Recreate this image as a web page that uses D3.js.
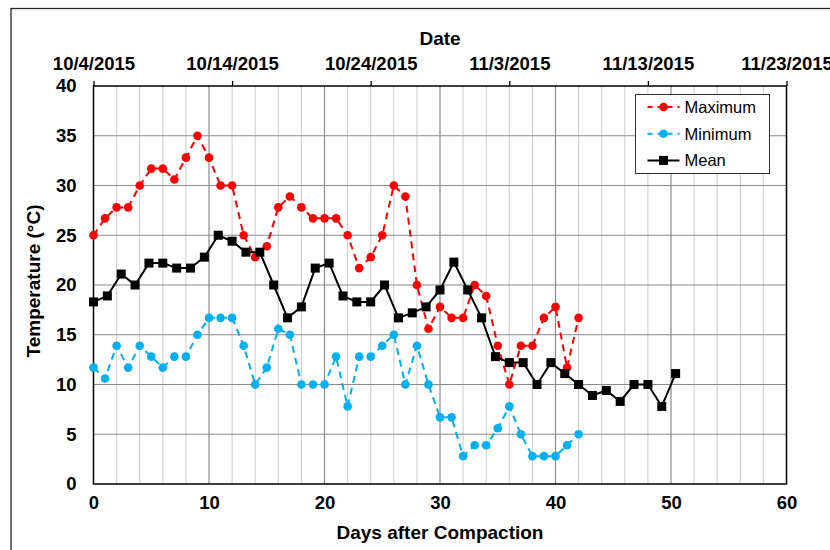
<!DOCTYPE html>
<html><head><meta charset="utf-8">
<script src="https://cdn.jsdelivr.net/npm/d3@7"></script>
<style>body{margin:0;background:#fff}svg{display:block;font-family:"Liberation Sans",Arial,sans-serif}</style>
</head><body>
<script>
// ---- data ----
const days = d3.range(0, 43);
const maxTemp = [25.0,26.7,27.8,27.8,30.0,31.7,31.7,30.6,32.8,35.0,32.8,30.0,30.0,25.0,22.8,23.9,27.8,28.9,27.8,26.7,26.7,26.7,25.0,21.7,22.8,25.0,30.0,28.9,20.0,15.6,17.8,16.7,16.7,20.0,18.9,13.9,10.0,13.9,13.9,16.7,17.8,11.7,16.7];
const minTemp = [11.7,10.6,13.9,11.7,13.9,12.8,11.7,12.8,12.8,15.0,16.7,16.7,16.7,13.9,10.0,11.7,15.6,15.0,10.0,10.0,10.0,12.8,7.8,12.8,12.8,13.9,15.0,10.0,13.9,10.0,6.7,6.7,2.8,3.9,3.9,5.6,7.8,5.0,2.8,2.8,2.8,3.9,5.0];
const meanTemp = [18.3,18.9,21.1,20.0,22.2,22.2,21.7,21.7,22.8,25.0,24.4,23.3,23.3,20.0,16.7,17.8,21.7,22.2,18.9,18.3,18.3,20.0,16.7,17.2,17.8,19.5,22.3,19.5,16.7,12.8,12.2,12.2,10.0,12.2,11.1,10.0,8.9,9.4,8.3,10.0,10.0,7.8,11.1];
const startDate = new Date(Date.UTC(2015, 9, 4));
const endDate = new Date(Date.UTC(2015, 10, 23));
const xTicks = [0,10,20,30,40,50,60];
const yTicks = [0,5,10,15,20,25,30,35,40];
const seriesNames = ["Maximum","Minimum","Mean"];

// ---- layout ----
const W = 830, H = 550;
const m = {left: 93.5, right: 830-786.5, top: 86, bottom: 550-484};
const pw = W - m.left - m.right, ph = H - m.top - m.bottom;
const FONT = "Liberation Sans, Arial, sans-serif";

const svg = d3.select("body").append("svg").attr("width", W).attr("height", H);
svg.append("rect").attr("x", 11).attr("y", 8.5).attr("width", 840).attr("height", 560)
  .attr("fill", "none").attr("stroke", "#222").attr("stroke-width", 1.3);

const g = svg.append("g").attr("transform", `translate(${m.left},${m.top})`);
const x = d3.scaleLinear().domain([0, 60]).range([0, pw]);
const xd = d3.scaleUtc().domain([startDate, endDate]).range([0, pw]);
const y = d3.scaleLinear().domain([0, 40]).range([ph, 0]);

// grid
const grid = g.append("g");
grid.selectAll(".vmin").data(d3.range(2, 60, 2).filter(v => v % 10 !== 0)).join("line")
  .attr("x1", d => x(d)).attr("x2", d => x(d)).attr("y1", 0).attr("y2", ph)
  .attr("stroke", "#d4d4d4").attr("stroke-width", 1.2);
grid.selectAll(".vmaj").data([10,20,30,40,50]).join("line")
  .attr("x1", d => x(d)).attr("x2", d => x(d)).attr("y1", 0).attr("y2", ph)
  .attr("stroke", "#8a8a8a").attr("stroke-width", 1.2);
grid.selectAll(".h").data(yTicks.filter(v => v > 0 && v < 40)).join("line")
  .attr("x1", 0).attr("x2", pw).attr("y1", d => y(d)).attr("y2", d => y(d))
  .attr("stroke", "#8a8a8a").attr("stroke-width", 1.2);

// frame
g.append("rect").attr("width", pw).attr("height", ph).attr("fill", "none")
  .attr("stroke", "#000").attr("stroke-width", 1.5);

// axes
const fmtDate = d => `${d.getUTCMonth()+1}/${d.getUTCDate()}/${d.getUTCFullYear()}`;
const topAx = g.append("g").call(d3.axisTop(xd).tickValues(d3.range(0, 51, 10).map(k => d3.utcDay.offset(startDate, k)))
  .tickFormat(fmtDate).tickSize(5).tickSizeOuter(0).tickPadding(3));
topAx.select(".domain").remove();
topAx.selectAll("line").attr("stroke", "#000").attr("stroke-width", 1.3);
topAx.selectAll("text").attr("font-size", 18.5).attr("font-weight", "bold").attr("fill", "#000")
  .attr("dy", "-0.45em").attr("font-family", FONT);

const botAx = g.append("g").attr("transform", `translate(0,${ph})`)
  .call(d3.axisBottom(x).tickValues(xTicks).tickSize(0).tickPadding(12));
botAx.select(".domain").remove();
botAx.selectAll("text").attr("font-size", 18.5).attr("font-weight", "bold").attr("fill", "#000")
  .attr("font-family", FONT);

const leftAx = g.append("g").call(d3.axisLeft(y).tickValues(yTicks).tickSize(0).tickPadding(17));
leftAx.select(".domain").remove();
leftAx.selectAll("text").attr("font-size", 18.5).attr("font-weight", "bold").attr("fill", "#000")
  .attr("font-family", FONT);

// titles
svg.append("text").attr("x", 440).attr("y", 45).attr("text-anchor", "middle")
  .attr("font-size", 19).attr("font-weight", "bold").text("Date");
svg.append("text").attr("x", 440).attr("y", 539).attr("text-anchor", "middle")
  .attr("font-size", 19).attr("font-weight", "bold").text("Days after Compaction");
svg.append("text").attr("transform", "translate(40,281) rotate(-90)").attr("text-anchor", "middle")
  .attr("font-size", 19).attr("font-weight", "bold").text("Temperature (°C)");

// series
const lineDay = d3.line().x(d => x(d[0])).y(d => y(d[1]));
const maxPts = days.map((d, i) => [d, maxTemp[i]]);
const minPts = days.map((d, i) => [d, minTemp[i]]);
const meanPts = days.map((d, i) => [d3.utcDay.offset(startDate, d), meanTemp[i]]);

g.append("path").datum(minPts).attr("d", lineDay).attr("fill", "none")
  .attr("stroke", "#00b0f0").attr("stroke-width", 2).attr("stroke-dasharray", "7,5");
g.selectAll(".minpt").data(minPts).join("circle").attr("cx", d => x(d[0])).attr("cy", d => y(d[1]))
  .attr("r", 4.3).attr("fill", "#00b0f0");

g.append("path").datum(maxPts).attr("d", lineDay).attr("fill", "none")
  .attr("stroke", "#ff0000").attr("stroke-width", 2).attr("stroke-dasharray", "7,5");
g.selectAll(".maxpt").data(maxPts).join("circle").attr("cx", d => x(d[0])).attr("cy", d => y(d[1]))
  .attr("r", 4.3).attr("fill", "#ff0000");

g.append("path").datum(meanPts).attr("d", d3.line().x(d => xd(d[0])).y(d => y(d[1]))).attr("fill", "none")
  .attr("stroke", "#000").attr("stroke-width", 2);
g.selectAll(".meanpt").data(meanPts).join("rect").attr("x", d => xd(d[0]) - 4.5).attr("y", d => y(d[1]) - 4.5)
  .attr("width", 9).attr("height", 9).attr("fill", "#000");

// legend
const lg = svg.append("g").attr("transform", "translate(635.5,94.5)");
lg.append("rect").attr("width", 134).attr("height", 79).attr("fill", "#fff").attr("stroke", "#333").attr("stroke-width", 1);
const styles = [
  {c: "#ff0000", dash: "5,5", mk: "c"},
  {c: "#00b0f0", dash: "5,5", mk: "c"},
  {c: "#000", dash: null, mk: "s"}
];
seriesNames.forEach((n, i) => {
  const yy = 12.5 + i * 26.7;
  const s = styles[i];
  lg.append("line").attr("x1", 12).attr("x2", 44).attr("y1", yy).attr("y2", yy)
    .attr("stroke", s.c).attr("stroke-width", 2).attr("stroke-dasharray", s.dash);
  if (s.mk === "c") lg.append("circle").attr("cx", 28).attr("cy", yy).attr("r", 4.3).attr("fill", s.c);
  else lg.append("rect").attr("x", 23.5).attr("y", yy - 4.5).attr("width", 9).attr("height", 9).attr("fill", s.c);
  lg.append("text").attr("x", 49).attr("y", yy).attr("dy", "0.36em").attr("font-size", 16.5).text(n);
});
</script>
</body></html>
